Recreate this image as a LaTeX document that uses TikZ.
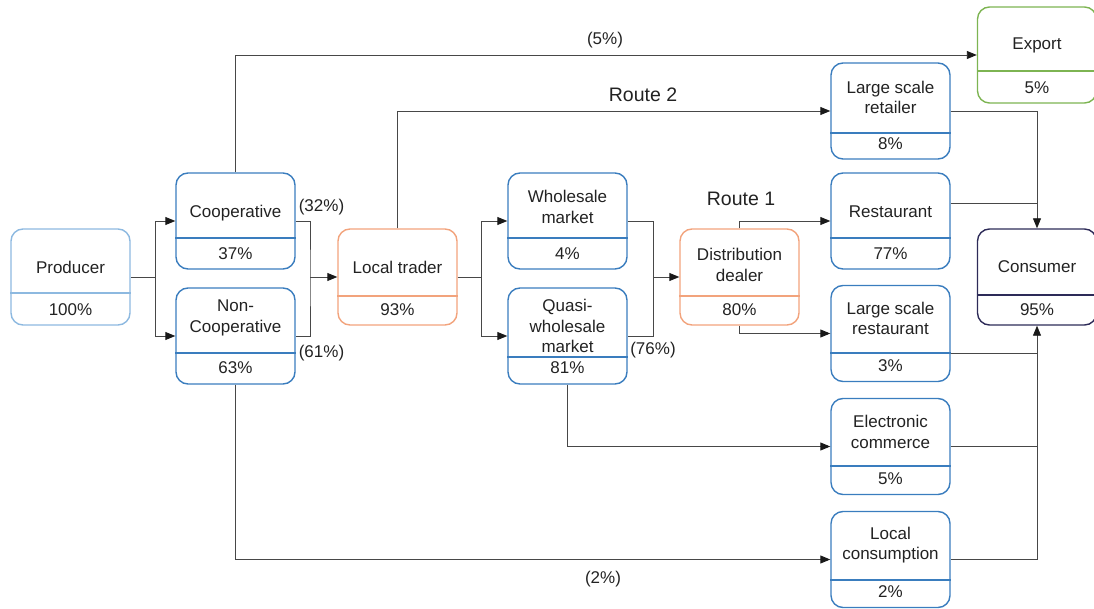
\documentclass[tikz,border=0pt]{standalone}
\usepackage{fontspec}
\setmainfont{Liberation Sans}
\usetikzlibrary{arrows.meta}
\definecolor{cblue}{HTML}{3A7DBE}
\definecolor{clight}{HTML}{8DB9E0}
\definecolor{corange}{HTML}{F2A37C}
\definecolor{cgreen}{HTML}{7DB452}
\definecolor{cnavy}{HTML}{2D2B58}
\definecolor{cline}{HTML}{474747}
\definecolor{ctext}{HTML}{222222}
\tikzset{
  flowbox/.style={draw, rounded corners=12pt, line width=1.4pt, minimum width=119pt, minimum height=96pt, inner sep=0pt},
  txt/.style={font=\fontsize{17}{20.5}\selectfont, text=ctext, align=center, inner sep=0pt},
  rtxt/.style={font=\fontsize{19.5}{22}\selectfont, text=ctext, inner sep=0pt},
  conn/.style={draw=cline, line width=0.9pt},
  arr/.style={conn, -{Triangle[length=10pt,width=8pt,color=black!90]}},
}
% name, cx, cy, colour, divider y, top text y, bottom text y, top text, bottom text
\newcommand\flowcell[9]{%
  \node[flowbox, draw=#4] (#1) at (#2,#3) {};
  \draw[#4, line width=1.4pt] (#1.west |- 0,#5) -- (#1.east |- 0,#5);
  \node[txt] (#1-t) at (#2,#6) {#8};
  \node[txt] (#1-b) at (#2,#7) {#9};
}
\begin{document}
\begin{tikzpicture}[x=1pt,y=-1pt]
\useasboundingbox (0,0) rectangle (1094,609);
\begin{scope}
\clip (0,0) rectangle (1094,609);
\flowcell{prod}{70.5}{277}{clight}{293}{267}{309.5}{Producer}{100\%}
\flowcell{coop}{235.5}{221}{cblue}{238}{213}{253.5}{Cooperative}{37\%}
\flowcell{ncoop}{235.5}{336}{cblue}{353}{318}{368}{Non-\\Cooperative}{63\%}
\flowcell{lt}{397.5}{277}{corange}{296}{267}{309.5}{Local trader}{93\%}
\flowcell{ws}{567.5}{221}{cblue}{238}{207}{253.5}{Wholesale\\market}{4\%}
\flowcell{qw}{567.5}{336}{cblue}{357}{326}{367.5}{Quasi-\\wholesale\\market}{81\%}
\flowcell{dd}{739.5}{277}{corange}{296}{265}{309.5}{Distribution\\dealer}{80\%}
\flowcell{lsr}{890.5}{111}{cblue}{133}{97.5}{143.5}{Large scale\\retailer}{8\%}
\flowcell{exp}{1037}{55}{cgreen}{71}{45}{88}{Export}{5\%}
\flowcell{rest}{890.5}{221}{cblue}{238}{212}{253.5}{Restaurant}{77\%}
\flowcell{cons}{1037}{277}{cnavy}{295}{267}{309.5}{Consumer}{95\%}
\flowcell{lsrest}{890.5}{333.5}{cblue}{353}{318.5}{365.5}{Large scale\\restaurant}{3\%}
\flowcell{ec}{890.5}{446.5}{cblue}{466}{432}{479}{Electronic\\commerce}{5\%}
\flowcell{lc}{890.5}{559.5}{cblue}{580}{545}{592}{Local\\consumption}{2\%}
\end{scope}

% producer split
\draw[conn] (prod.east) -- (155,277) coordinate (j1);
\draw[arr] (j1) |- (coop.west);
\draw[arr] (j1) |- (ncoop.west);
% merge into local trader
\coordinate (j2) at (310,277);
\draw[conn] (coop.east) -| (j2) |- (ncoop.east);
\draw[arr] (j2) -- (lt.west);
% export and local consumption
\draw[arr] (coop.north) |- (exp.west);
\draw[arr] (ncoop.south) |- (lc.west);
% route 2
\draw[arr] (lt.north) |- (lsr.west);
% local trader split
\draw[conn] (lt.east) -- (481,277) coordinate (j3);
\draw[arr] (j3) |- (ws.west);
\draw[arr] (j3) |- (qw.west);
% merge into distribution dealer
\coordinate (j4) at (653,277);
\draw[conn] (ws.east) -| (j4) |- (qw.east);
\draw[arr] (j4) -- (dd.west);
% distribution dealer outputs
\draw[arr] (dd.north) |- (rest.west);
\draw[arr] (dd.south) |- (lsrest.west);
% e-commerce
\draw[arr] (qw.south) |- (ec.west);
% to consumer
\coordinate (restE) at ([yshift=18pt]rest.east);
\coordinate (lsrestE) at ([yshift=-19.5pt]lsrest.east);
\draw[arr] (lsr.east) -| (cons.north);
\draw[conn] (restE) -- (cons.north |- restE);
\draw[arr] (lc.east) -| (cons.south);
\draw[conn] (lsrestE) -- (cons.south |- lsrestE);
\draw[conn] (ec.east) -- (cons.south |- ec.east);

% labels
\node[txt] (l5) at (605,40) {(5\%)};
\node[txt] (l2) at (603,579) {(2\%)};
\node[txt] (l32) at (321.5,207) {(32\%)};
\node[txt] (l61) at (321.5,353) {(61\%)};
\node[txt] (l76) at (653,350) {(76\%)};
\node[rtxt] (r2) at (643,95) {Route 2};
\node[rtxt] (r1) at (741,199) {Route 1};
\end{tikzpicture}
\end{document}
